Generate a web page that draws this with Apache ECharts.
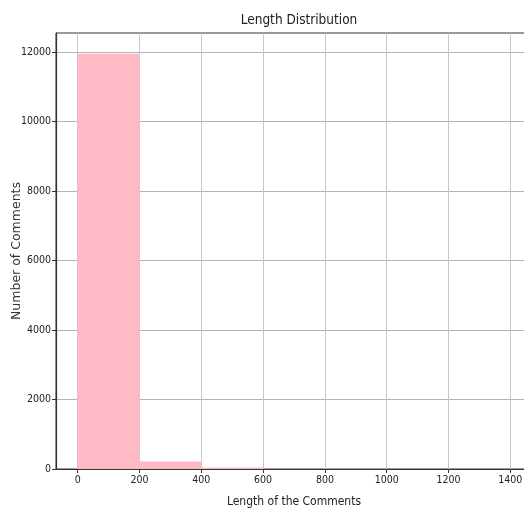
<!DOCTYPE html>
<html>
<head>
<meta charset="utf-8">
<script src="https://cdn.jsdelivr.net/npm/echarts@6/dist/echarts.min.js"></script>
<style>
html,body{margin:0;padding:0;background:#fff;}
#chart{width:524px;height:510px;}
</style>
</head>
<body>
<div id="chart"></div>
<script>
// Histogram bins (edges) and counts
var binStarts = [0, 200, 400, 600, 800, 1000, 1200];
var binEnds   = [200, 400, 600, 800, 1000, 1200, 1400];
var counts    = [11950, 218, 40, 8, 4, 2, 1];
var xTicks = [0, 200, 400, 600, 800, 1000, 1200, 1400];
var yTicks = [0, 2000, 4000, 6000, 8000, 10000, 12000];

var data = binStarts.map(function (s, i) { return [s, binEnds[i], counts[i]]; });

var chart = echarts.init(document.getElementById('chart'), null, {renderer: 'canvas'});
var condensed = '"DejaVu Sans Condensed", "DejaVu Sans", sans-serif';
var plain = function (v) { return String(v); };
chart.setOption({
  animation: false,
  backgroundColor: '#ffffff',
  title: {
    text: 'Length Distribution',
    left: 294, top: 8, textAlign: 'center',
    textStyle: {fontFamily: condensed, fontSize: 13.5, fontWeight: 'normal', color: '#222'}
  },
  grid: {left: 56, right: -8, top: 33, bottom: 41, show: true, borderColor: '#333', borderWidth: 1,
         containLabel: false, outerBoundsMode: 'none'},
  xAxis: {
    type: 'value', min: -70, max: 1470,
    name: 'Length of the Comments', nameLocation: 'middle', nameGap: 27, nameMoveOverlap: false,
    nameTextStyle: {fontFamily: condensed, fontSize: 12, color: '#222'},
    axisLine: {show: true, onZero: false, lineStyle: {color: '#333', width: 1.2}},
    axisTick: {show: true, length: 4, lineStyle: {color: '#333'}, customValues: xTicks},
    axisLabel: {fontFamily: condensed, fontSize: 10.5, color: '#222', margin: 6, customValues: xTicks, formatter: plain},
    splitLine: {show: true, lineStyle: {color: '#c8c8c8', width: 1}}
  },
  yAxis: {
    type: 'value', min: 0, max: 12548,
    name: 'Number of Comments', nameLocation: 'middle', nameGap: 33, nameMoveOverlap: false,
    nameTextStyle: {fontFamily: '"DejaVu Sans", sans-serif', fontSize: 12.5, color: '#333'},
    axisLine: {show: true, onZero: false, lineStyle: {color: '#333', width: 1.2}},
    axisTick: {show: true, length: 4, lineStyle: {color: '#333'}, customValues: yTicks},
    axisLabel: {fontFamily: condensed, fontSize: 10.5, color: '#222', margin: 5, customValues: yTicks, formatter: plain},
    splitLine: {show: true, lineStyle: {color: '#b4b4b4', width: 1}}
  },
  series: [{
    type: 'custom',
    data: data,
    encode: {x: [0, 1], y: 2},
    renderItem: function (params, api) {
      var p0 = api.coord([api.value(0), 0]);
      var p1 = api.coord([api.value(1), api.value(2)]);
      return {
        type: 'rect',
        shape: {x: p0[0], y: p1[1], width: p1[0] - p0[0], height: p0[1] - p1[1]},
        style: {fill: '#ffbac6'}
      };
    }
  }]
});
</script>
</body>
</html>
